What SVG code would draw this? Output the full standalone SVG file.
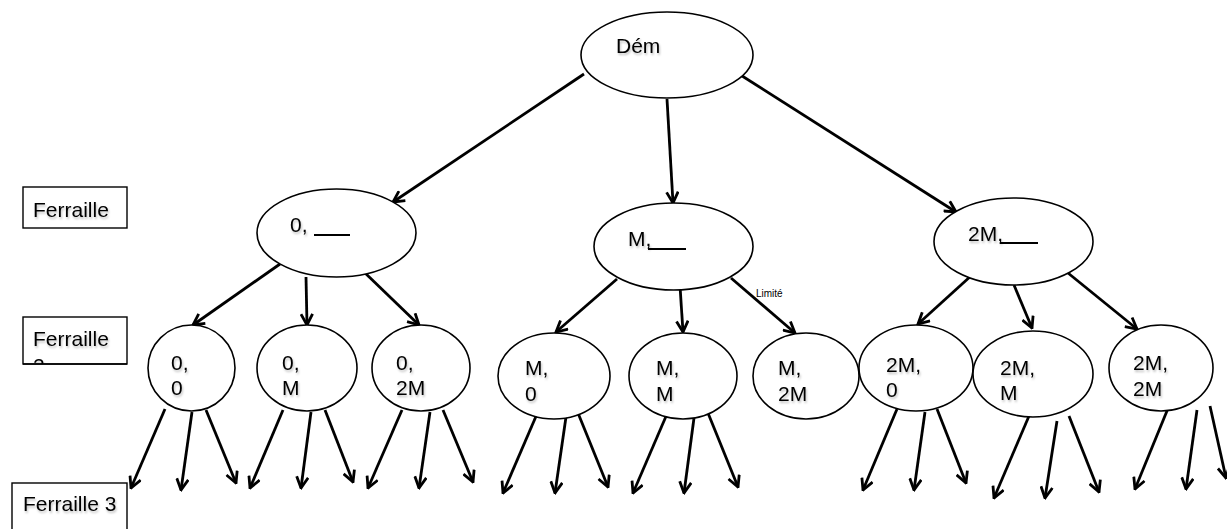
<svg xmlns="http://www.w3.org/2000/svg" width="1227" height="529" viewBox="0 0 1227 529">
<style>
  .node { fill: #ffffff; stroke: #000000; stroke-width: 1.6; }
  .box { fill: #ffffff; stroke: #000000; stroke-width: 1.4; }
  .t { font-family: "Liberation Sans", Arial, sans-serif; font-size: 21px; fill: #000000; filter: url(#shadow); }
  .small { font-family: "Liberation Sans", Arial, sans-serif; font-size: 10px; fill: #000000; }
  .ul { stroke: #000000; stroke-width: 2; }
  .arrow { stroke: #000000; stroke-width: 2.8; fill: none; marker-end: url(#head); }
</style>
<defs>
  <filter id="shadow" x="-10%" y="-20%" width="130%" height="160%">
    <feDropShadow dx="1" dy="2" stdDeviation="1.3" flood-color="#000000" flood-opacity="0.25"/>
  </filter>
  <marker id="head" viewBox="0 0 14 14" refX="12.5" refY="7" markerWidth="14" markerHeight="14" markerUnits="userSpaceOnUse" orient="auto">
    <path d="M1.5,1.2 L12.5,7 L1.5,12.8" fill="none" stroke="#000000" stroke-width="2.8" stroke-linejoin="miter"/>
  </marker>
  <clipPath id="clip2"><rect x="23" y="317" width="104" height="47"/></clipPath>
</defs>
<rect width="1227" height="529" fill="#ffffff"/>

<g id="connectors">
  <line class="arrow" x1="584" y1="74" x2="393" y2="202"/>
  <line class="arrow" x1="667" y1="99" x2="673" y2="203"/>
  <line class="arrow" x1="739" y1="74" x2="956" y2="212"/>

  <line class="arrow" x1="280" y1="264" x2="193" y2="325"/>
  <line class="arrow" x1="306" y1="277" x2="307" y2="325"/>
  <line class="arrow" x1="363" y1="271" x2="419" y2="325"/>

  <line class="arrow" x1="617" y1="279" x2="556" y2="332"/>
  <line class="arrow" x1="680" y1="286" x2="683" y2="332"/>
  <line class="arrow" x1="731" y1="278" x2="795" y2="333"/>

  <line class="arrow" x1="972" y1="275" x2="918" y2="324"/>
  <line class="arrow" x1="1014" y1="285" x2="1032" y2="328"/>
  <line class="arrow" x1="1068" y1="273" x2="1137" y2="329"/>

  <line class="arrow" x1="165" y1="409" x2="131" y2="488"/>
  <line class="arrow" x1="192" y1="412" x2="181" y2="490"/>
  <line class="arrow" x1="206" y1="410" x2="236" y2="483"/>

  <line class="arrow" x1="283" y1="410" x2="250" y2="488"/>
  <line class="arrow" x1="311" y1="412" x2="301" y2="488"/>
  <line class="arrow" x1="325" y1="410" x2="353" y2="482"/>

  <line class="arrow" x1="402" y1="410" x2="368" y2="488"/>
  <line class="arrow" x1="430" y1="412" x2="419" y2="488"/>
  <line class="arrow" x1="443" y1="410" x2="473" y2="482"/>

  <line class="arrow" x1="537" y1="414" x2="503" y2="493"/>
  <line class="arrow" x1="566" y1="417" x2="555" y2="493"/>
  <line class="arrow" x1="578" y1="413" x2="608" y2="487"/>

  <line class="arrow" x1="667" y1="414" x2="633" y2="493"/>
  <line class="arrow" x1="694" y1="418" x2="684" y2="493"/>
  <line class="arrow" x1="708" y1="413" x2="738" y2="487"/>

  <line class="arrow" x1="897" y1="409" x2="863" y2="490"/>
  <line class="arrow" x1="925" y1="412" x2="914" y2="490"/>
  <line class="arrow" x1="937" y1="409" x2="966" y2="483"/>

  <line class="arrow" x1="1029" y1="416" x2="994" y2="498"/>
  <line class="arrow" x1="1057" y1="421" x2="1045" y2="498"/>
  <line class="arrow" x1="1069" y1="416" x2="1099" y2="492"/>

  <line class="arrow" x1="1169" y1="406" x2="1135" y2="489"/>
  <line class="arrow" x1="1197" y1="410" x2="1186" y2="489"/>
  <line class="arrow" x1="1210" y1="406" x2="1226" y2="478"/>
</g>

<g id="label-ferraille-1">
  <rect class="box" x="23" y="187" width="104" height="41"/>
  <text class="t" x="33" y="217">Ferraille</text>
</g>
<g id="label-ferraille-2">
  <rect class="box" x="23" y="317" width="104" height="47"/>
  <g clip-path="url(#clip2)">
    <text class="t" x="33" y="346">Ferraille</text>
    <text class="t" x="33" y="373">2</text>
  </g>
  <line x1="23" y1="364" x2="127" y2="364" stroke="#000000" stroke-width="1.4"/>
</g>
<g id="label-ferraille-3">
  <rect class="box" x="12" y="483" width="115" height="50"/>
  <text class="t" x="23" y="511">Ferraille 3</text>
</g>

<g id="node-dem">
  <ellipse class="node" cx="667" cy="55" rx="86" ry="43"/>
  <text class="t" x="616" y="53">Dém</text>
</g>

<g id="node-0">
  <ellipse class="node" cx="336.5" cy="233" rx="79.5" ry="44"/>
  <text class="t" x="290" y="232">0,</text>
  <line class="ul" x1="314" y1="235" x2="350" y2="235"/>
</g>
<g id="node-m">
  <ellipse class="node" cx="673.5" cy="246.5" rx="79.5" ry="43.5"/>
  <text class="t" x="628" y="246">M,</text>
  <line class="ul" x1="648" y1="249" x2="686" y2="249"/>
  <text class="small" x="756" y="297">Limité</text>
</g>
<g id="node-2m">
  <ellipse class="node" cx="1013.5" cy="241.5" rx="79.5" ry="43.5"/>
  <text class="t" x="968" y="241">2M,</text>
  <line class="ul" x1="1000" y1="243" x2="1038" y2="243"/>
</g>

<g id="node-0-0">
  <ellipse class="node" cx="191.5" cy="368" rx="43.5" ry="43"/>
  <text class="t" x="171" y="370">0,</text>
  <text class="t" x="171" y="395">0</text>
</g>
<g id="node-0-m">
  <ellipse class="node" cx="307" cy="368" rx="50" ry="43"/>
  <text class="t" x="282" y="370">0,</text>
  <text class="t" x="282" y="395">M</text>
</g>
<g id="node-0-2m">
  <ellipse class="node" cx="421" cy="368" rx="49" ry="43"/>
  <text class="t" x="396" y="370">0,</text>
  <text class="t" x="396" y="395">2M</text>
</g>

<g id="node-m-0">
  <ellipse class="node" cx="554" cy="376" rx="56" ry="43"/>
  <text class="t" x="525" y="375">M,</text>
  <text class="t" x="525" y="401">0</text>
</g>
<g id="node-m-m">
  <ellipse class="node" cx="683" cy="376" rx="54" ry="43"/>
  <text class="t" x="656" y="375">M,</text>
  <text class="t" x="656" y="401">M</text>
</g>
<g id="node-m-2m">
  <ellipse class="node" cx="806" cy="376" rx="53" ry="43"/>
  <text class="t" x="778" y="375">M,</text>
  <text class="t" x="778" y="401">2M</text>
</g>

<g id="node-2m-0">
  <ellipse class="node" cx="916" cy="368" rx="57" ry="43"/>
  <text class="t" x="886" y="372">2M,</text>
  <text class="t" x="886" y="397">0</text>
</g>
<g id="node-2m-m">
  <ellipse class="node" cx="1033" cy="374" rx="60" ry="43"/>
  <text class="t" x="1000" y="375">2M,</text>
  <text class="t" x="1000" y="400">M</text>
</g>
<g id="node-2m-2m">
  <ellipse class="node" cx="1161" cy="368" rx="52" ry="43"/>
  <text class="t" x="1133" y="370">2M,</text>
  <text class="t" x="1133" y="396">2M</text>
</g>
</svg>
